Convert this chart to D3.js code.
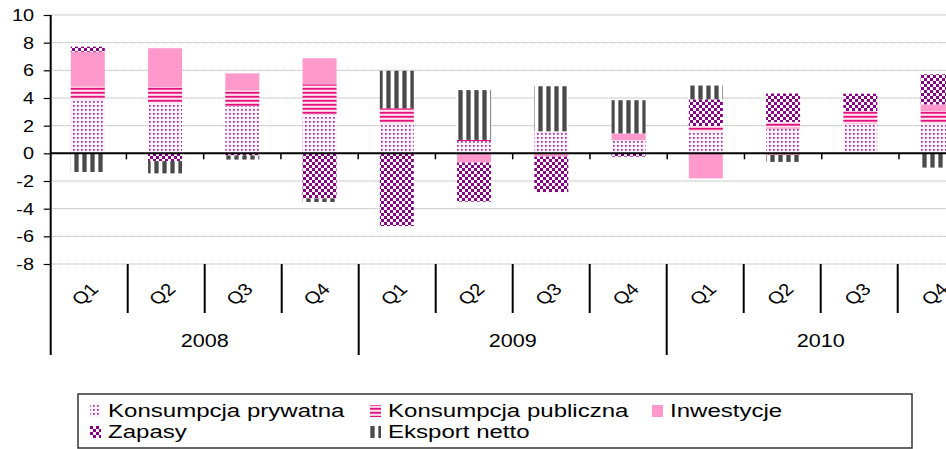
<!DOCTYPE html>
<html lang="pl">
<head>
<meta charset="UTF-8">
<title>Wkład do wzrostu PKB</title>
<script src="https://d3js.org/d3.v7.min.js"></script>
<style>
  body { margin: 0; background: #fff; }
  text { font-family: "Liberation Sans", Arial, sans-serif; fill: #000; }
</style>
</head>
<body>
<svg id="chart"></svg>
<script>
// ---- data ----
var years = ["2008", "2009", "2010"];
var quarters = ["Q1", "Q2", "Q3", "Q4"];
var yTicks = [-8, -6, -4, -2, 0, 2, 4, 6, 8, 10];

var seriesNames = ["Konsumpcja prywatna", "Konsumpcja publiczna", "Inwestycje", "Zapasy", "Eksport netto"];
var konsPrywatna  = [3.90, 3.67, 3.42, 2.82, 2.17, 0.89, 1.59, 0.96, 1.61, 1.81, 2.12, 2.17];
var konsPubliczna = [0.92, 1.13, 1.13, 2.17, 1.09, 0.08, 0.00, 0.00, 0.36, 0.46, 0.94, 0.89];
var inwestycje    = [2.53, 2.80, 1.23, 1.88, 0.00, -0.67, -0.24, 0.48, -1.81, -0.12, 0.00, 0.48];
var zapasy        = [0.36, -0.56, -0.15, -3.26, -5.26, -2.82, -2.56, -0.24, 1.93, 2.05, 1.25, 2.17];
var eksportNetto  = [-1.35, -0.89, -0.30, -0.26, 2.71, 3.60, 3.26, 2.40, 1.00, -0.50, 0.00, -1.03];

var width = 946, height = 449;
var svg = d3.select("#chart").attr("width", width).attr("height", height);

// categories: one per quarter
var categories = [];
years.forEach(function (y) {
    quarters.forEach(function (q) { categories.push(y + " " + q); });
});
var valuesBySeries = [konsPrywatna, konsPubliczna, inwestycje, zapasy, eksportNetto];
var table = categories.map(function (c, i) {
    var row = { cat: c };
    seriesNames.forEach(function (s, k) { row[s] = valuesBySeries[k][i]; });
    return row;
});

// ---- scales ----
var x0 = 50.7, step = 77.0;
var x = d3.scaleBand()
    .domain(categories)
    .range([x0, x0 + step * categories.length])
    .paddingInner(0.56)
    .paddingOuter(0.26);
var y = d3.scaleLinear().domain([-8, 10]).range([264, 15]);

// ---- patterns ----
var defs = svg.append("defs");
var p1 = defs.append("pattern").attr("id", "pat-pryw").attr("patternUnits", "userSpaceOnUse")
    .attr("width", 4).attr("height", 4);
p1.append("rect").attr("width", 4).attr("height", 4).attr("fill", "#fbf0fb");
p1.append("rect").attr("x", 1).attr("y", 1).attr("width", 2).attr("height", 2).attr("fill", "#c98ac9");
p1.append("rect").attr("x", 1).attr("y", 1).attr("width", 1.2).attr("height", 1.2).attr("fill", "#8e2a8e");

var p2 = defs.append("pattern").attr("id", "pat-publ").attr("patternUnits", "userSpaceOnUse")
    .attr("width", 4).attr("height", 4);
p2.append("rect").attr("width", 4).attr("height", 4).attr("fill", "#ffb3d6");
p2.append("rect").attr("y", 0).attr("width", 4).attr("height", 1.6).attr("fill", "#e0107c");
p2.append("rect").attr("y", 2.4).attr("width", 4).attr("height", 0.8).attr("fill", "#fff");

var p4 = defs.append("pattern").attr("id", "pat-zap").attr("patternUnits", "userSpaceOnUse")
    .attr("width", 6).attr("height", 6);
p4.append("rect").attr("width", 6).attr("height", 6).attr("fill", "#fff");
p4.append("rect").attr("x", 0).attr("y", 0).attr("width", 3).attr("height", 3).attr("fill", "#850085");
p4.append("rect").attr("x", 3).attr("y", 3).attr("width", 3).attr("height", 3).attr("fill", "#850085");

var p5 = defs.append("pattern").attr("id", "pat-eks").attr("patternUnits", "userSpaceOnUse")
    .attr("width", 8).attr("height", 8);
p5.append("rect").attr("width", 8).attr("height", 8).attr("fill", "#fff");
p5.append("rect").attr("x", 2).attr("width", 5).attr("height", 8).attr("fill", "#8a8a8a");
p5.append("rect").attr("x", 3).attr("width", 3).attr("height", 8).attr("fill", "#4a4a4a");

var fills = {
    "Konsumpcja prywatna": "url(#pat-pryw)",
    "Konsumpcja publiczna": "url(#pat-publ)",
    "Inwestycje": "#ff99cc",
    "Zapasy": "url(#pat-zap)",
    "Eksport netto": "url(#pat-eks)"
};

// stretched text helper (the source image is widened horizontally)
function label(parent, tx, ty, txt, size, sx, anchor, rot) {
    var g = parent.append("g")
        .attr("transform", "translate(" + tx + "," + ty + ") scale(" + sx + ",1)" + (rot ? " rotate(" + rot + ")" : ""));
    return g.append("text").attr("font-size", size).attr("text-anchor", anchor || "start").text(txt);
}

// ---- gridlines ----
svg.append("g").selectAll("line").data(yTicks.filter(function (d) { return d !== 0; }))
    .enter().append("line")
    .attr("x1", x0).attr("x2", width)
    .attr("y1", function (d) { return y(d); }).attr("y2", function (d) { return y(d); })
    .attr("stroke", "#9a9a9a").attr("stroke-width", 1).attr("stroke-dasharray", "1,1");

// ---- bars ----
var stack = d3.stack().keys(seriesNames).offset(d3.stackOffsetDiverging);
var layers = stack(table);
svg.append("g").selectAll("g").data(layers).enter().append("g")
    .attr("fill", function (d) { return fills[d.key]; })
    .selectAll("rect").data(function (d) { return d; }).enter().append("rect")
    .attr("x", function (d) { return x(d.data.cat); })
    .attr("width", x.bandwidth())
    .attr("y", function (d) { return y(Math.max(d[0], d[1])); })
    .attr("height", function (d) { return Math.abs(y(d[0]) - y(d[1])); });

// ---- zero line and its ticks ----
svg.append("line").attr("x1", x0).attr("x2", width).attr("y1", y(0)).attr("y2", y(0))
    .attr("stroke", "#000").attr("stroke-width", 2);
svg.append("g").selectAll("line").data(categories.slice(1)).enter().append("line")
    .attr("x1", function (d) { return x(d) - x.step() * x.paddingInner() / 2; })
    .attr("x2", function (d) { return x(d) - x.step() * x.paddingInner() / 2; })
    .attr("y1", y(0)).attr("y2", y(0) + 6)
    .attr("stroke", "#000").attr("stroke-width", 1.5);

// ---- y axis ----
var yAxis = d3.axisLeft(y).tickValues(yTicks).tickSize(7).tickFormat("");
var ya = svg.append("g").attr("transform", "translate(" + x0 + ",0)").call(yAxis);
ya.select(".domain").remove();
ya.selectAll(".tick line").attr("stroke", "#000").attr("stroke-width", 1.2);
svg.append("line").attr("x1", x0).attr("x2", x0).attr("y1", y(10)).attr("y2", 355)
    .attr("stroke", "#000").attr("stroke-width", 2);
yTicks.forEach(function (t) {
    label(svg, 34, y(t) + 6, String(t), 17, 1.17, "end");
});

// ---- category axis: quarter / year separators and labels ----
var boundaries = d3.range(1, categories.length + 1).map(function (i) { return x0 + i * step; });
svg.append("g").selectAll("line").data(boundaries).enter().append("line")
    .attr("x1", function (d) { return d; }).attr("x2", function (d) { return d; })
    .attr("y1", y(-8))
    .attr("y2", function (d, i) { return (i + 1) % quarters.length === 0 ? 355 : 313; })
    .attr("stroke", "#000").attr("stroke-width", 2);

categories.forEach(function (c, i) {
    var cx = x(c) + x.bandwidth() / 2 - 3;
    label(svg, cx, 294, quarters[i % 4], 17, 1.2, "middle", -45).attr("dy", "0.35em");
});
years.forEach(function (yr, i) {
    var cx = x0 + (i * 4 + 2) * step;
    label(svg, cx, 346.5, yr, 18, 1.2, "middle");
});

// ---- legend ----
var legend = svg.append("g");
legend.append("rect").attr("x", 78).attr("y", 394).attr("width", 834).attr("height", 54)
    .attr("fill", "#fff").attr("stroke", "#333").attr("stroke-width", 1.5);
var legendPos = [
    { name: "Konsumpcja prywatna", x: 90, y: 417 },
    { name: "Konsumpcja publiczna", x: 370, y: 417 },
    { name: "Inwestycje", x: 652, y: 417 },
    { name: "Zapasy", x: 90, y: 438 },
    { name: "Eksport netto", x: 370, y: 438 }
];
legendPos.forEach(function (d) {
    legend.append("rect").attr("x", d.x).attr("y", d.y - 12).attr("width", 11).attr("height", 12)
        .attr("fill", fills[d.name]);
    label(legend, d.x + 18, d.y, d.name, 18.5, 1.3, "start");
});
</script>
</body>
</html>
